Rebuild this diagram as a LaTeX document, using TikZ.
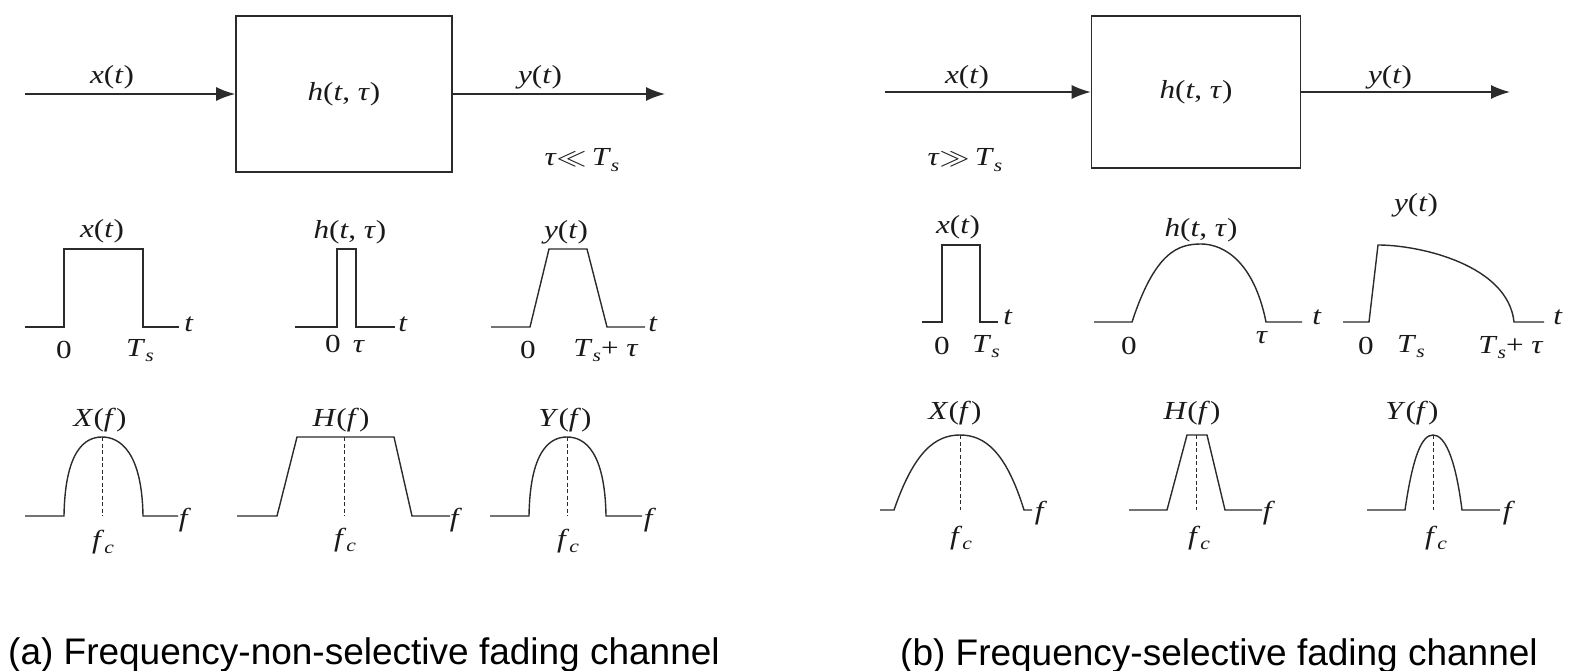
\documentclass[tikz,border=0pt]{standalone}
\usepackage{fontspec}
\setmainfont{Liberation Serif}
\newfontfamily\capfont{Liberation Sans}
\usepackage{graphicx}
\usepackage{tikz}
\usetikzlibrary{positioning, arrows.meta}
\definecolor{ink}{HTML}{1a1a1a}
\definecolor{wire}{HTML}{2b2b2b}
\newcommand{\lab}[1]{\scalebox{1.2}[1]{#1}}
\newcommand{\ivar}[1]{\textit{#1}}
\newcommand{\lowsub}[1]{\raisebox{-0.45ex}{\fontsize{18}{20}\selectfont\ivar{#1}}}
\newcommand{\Tsub}{\ivar{T}\lowsub{s}}
\newcommand{\fsub}{\ivar{f}\lowsub{c}}
\newcommand{\tauv}{\ivar{τ}}

\begin{document}
\begin{tikzpicture}[x=1pt, y=-1pt, lbl/.style={font=\fontsize{26}{30}\selectfont, inner sep=0pt, text=ink}, chan/.style={draw=wire, line width=1.6pt, inner sep=0pt}, sigarrow/.style={draw=wire, line width=1.6pt, -{Latex[length=19pt, width=14pt]}}, wave/.style={draw=wire, line width=1.4pt}, centre/.style={draw=wire, line width=1pt, dash pattern=on 4pt off 2.5pt}, captxt/.style={font=\capfont\fontsize{37}{44}\selectfont, inner sep=0pt, anchor=base west, text=black}]
\useasboundingbox[fill=white] (0,0) rectangle (1571,671);
% (a) frequency-non-selective
\node[chan, lbl, minimum width=216pt, minimum height=156pt] (boxa) at (344,94) {\lab{\ivar{h}(\ivar{t}, \tauv)}};
\coordinate (ina) at (25,94); \coordinate (outa) at (665,94);
\draw[sigarrow] (ina) -- (boxa); \draw[sigarrow] (boxa) -- (outa);
\node[lbl] (xina) at (112,77) {\lab{\ivar{x}(\ivar{t})}}; \node[lbl] (youta) at (540,77) {\lab{\ivar{y}(\ivar{t})}};
\node[lbl, anchor=base] (conda) at (582,166) {\lab{\tauv$\ll$\,\Tsub}};
\draw[wave] (25,327) -- (64,327) -- (64,249) -- (143,249) -- (143,327) -- (179,327);
\draw[wave] (295,327) -- (337,327) -- (337,249) -- (356,249) -- (356,327) -- (395,327);
\draw[wave] (491,327) -- (530,327) -- (549,249) -- (587,249) -- (607,327) -- (645,327);
\node[lbl] (xta) at (102,231) {\lab{\ivar{x}(\ivar{t})}}; \node[lbl] (hta) at (350,232) {\lab{\ivar{h}(\ivar{t}, \tauv)}}; \node[lbl] (yta) at (566,232) {\lab{\ivar{y}(\ivar{t})}};
\node[lbl, anchor=base] (x0a) at (64,358) {\lab{0}}; \node[lbl, anchor=base] (xtsa) at (140,356) {\lab{\Tsub}}; \node[lbl] (xva) at (189,324) {\lab{\ivar{t}}};
\node[lbl, anchor=base] (h0a) at (333,352) {\lab{0}}; \node[lbl, anchor=base] (htaua) at (359,352) {\lab{\tauv}}; \node[lbl] (hva) at (403,324) {\lab{\ivar{t}}};
\node[lbl, anchor=base] (y0a) at (528,358) {\lab{0}}; \node[lbl, anchor=base] (ytsa) at (606,356) {\lab{\Tsub+ \tauv}}; \node[lbl] (yva) at (653,324) {\lab{\ivar{t}}};
\draw[wave] (25,516) -- (64,516) .. controls (65,452) and (84,437) .. (102,437) .. controls (120,437) and (142,452) .. (143,516) -- (178,516);
\draw[wave] (237,516) -- (277,516) -- (297,437) -- (394,437) -- (412,516) -- (450,516);
\draw[wave] (490,516) -- (529,516) .. controls (530,452) and (549,437) .. (567,437) .. controls (585,437) and (605,452) .. (606,516) -- (642,516);
\draw[centre] (102,437) -- (102,516); \draw[centre] (344,437) -- (344,516); \draw[centre] (567,437) -- (567,516);
\node[lbl] (xfa) at (100,420) {\lab{\ivar{X}(\ivar{f})}}; \node[lbl] (hfa) at (341,420) {\lab{\ivar{H}(\ivar{f})}}; \node[lbl] (yfa) at (565,420) {\lab{\ivar{Y}(\ivar{f})}};
\node[lbl] (xfca) at (103,542) {\lab{\fsub}}; \node[lbl] (hfca) at (345,540) {\lab{\fsub}}; \node[lbl] (yfca) at (568,541) {\lab{\fsub}};
\node[lbl] (xfva) at (185,520) {\lab{\ivar{f}}}; \node[lbl] (hfva) at (456,520) {\lab{\ivar{f}}}; \node[lbl] (yfva) at (650,520) {\lab{\ivar{f}}};
\node[captxt] (capa) at (8,664) {(a) Frequency-non-selective fading channel};
% (b) frequency-selective
\node[chan, lbl, minimum width=209pt, minimum height=152pt] (boxb) at (1196,92) {\lab{\ivar{h}(\ivar{t}, \tauv)}};
\coordinate (inb) at (885,92); \coordinate (outb) at (1510,92);
\draw[sigarrow] (inb) -- (boxb); \draw[sigarrow] (boxb) -- (outb);
\node[lbl] (xinb) at (967,77) {\lab{\ivar{x}(\ivar{t})}}; \node[lbl] (youtb) at (1390,77) {\lab{\ivar{y}(\ivar{t})}};
\node[lbl, anchor=base] (condb) at (965,166) {\lab{\tauv$\gg$\,\Tsub}};
\draw[wave] (922,322) -- (942,322) -- (942,245) -- (980,245) -- (980,322) -- (998,322);
\draw[wave] (1094,322) -- (1132,322) .. controls (1155,252) and (1178,244) .. (1201,244) .. controls (1224,244) and (1254,262) .. (1266,322) -- (1302,322);
\draw[wave] (1343,322) -- (1369,322) -- (1378,245) .. controls (1420,245) and (1508,265) .. (1514,322) -- (1544,322);
\node[lbl] (xtb) at (958,227) {\lab{\ivar{x}(\ivar{t})}}; \node[lbl] (htb) at (1201,230) {\lab{\ivar{h}(\ivar{t}, \tauv)}}; \node[lbl] (ytb) at (1416,205) {\lab{\ivar{y}(\ivar{t})}};
\node[lbl, anchor=base] (x0b) at (942,354) {\lab{0}}; \node[lbl, anchor=base] (xtsb) at (986,352) {\lab{\Tsub}}; \node[lbl] (xvb) at (1008,317) {\lab{\ivar{t}}};
\node[lbl, anchor=base] (h0b) at (1129,354) {\lab{0}}; \node[lbl, anchor=base] (htaub) at (1262,343) {\lab{\tauv}}; \node[lbl] (hvb) at (1317,317) {\lab{\ivar{t}}};
\node[lbl, anchor=base] (y0b) at (1366,354) {\lab{0}}; \node[lbl, anchor=base] (yts1b) at (1411,352) {\lab{\Tsub}}; \node[lbl, anchor=base] (ytsb) at (1511,353) {\lab{\Tsub+ \tauv}}; \node[lbl] (yvb) at (1558,317) {\lab{\ivar{t}}};
\draw[wave] (880,510) -- (894,510) .. controls (914,452) and (935,435) .. (960,435) .. controls (985,435) and (1006,452) .. (1024,510) -- (1032,510);
\draw[wave] (1129,510) -- (1167,510) -- (1187,435) -- (1207,435) -- (1225,510) -- (1262,510);
\draw[wave] (1367,510) -- (1405,510) .. controls (1413,455) and (1422,435) .. (1433,435) .. controls (1444,435) and (1455,455) .. (1462,510) -- (1500,510);
\draw[centre] (960,435) -- (960,510); \draw[centre] (1196,435) -- (1196,510); \draw[centre] (1433,435) -- (1433,510);
\node[lbl] (xfb) at (955,413) {\lab{\ivar{X}(\ivar{f})}}; \node[lbl] (hfb) at (1192,413) {\lab{\ivar{H}(\ivar{f})}}; \node[lbl] (yfb) at (1412,413) {\lab{\ivar{Y}(\ivar{f})}};
\node[lbl] (xfcb) at (961,538) {\lab{\fsub}}; \node[lbl] (hfcb) at (1199,538) {\lab{\fsub}}; \node[lbl] (yfcb) at (1436,538) {\lab{\fsub}};
\node[lbl] (xfvb) at (1041,513) {\lab{\ivar{f}}}; \node[lbl] (hfvb) at (1269,513) {\lab{\ivar{f}}}; \node[lbl] (yfvb) at (1509,513) {\lab{\ivar{f}}};
\node[captxt] (capb) at (900,665) {(b) Frequency-selective fading channel};
\end{tikzpicture}
\end{document}
